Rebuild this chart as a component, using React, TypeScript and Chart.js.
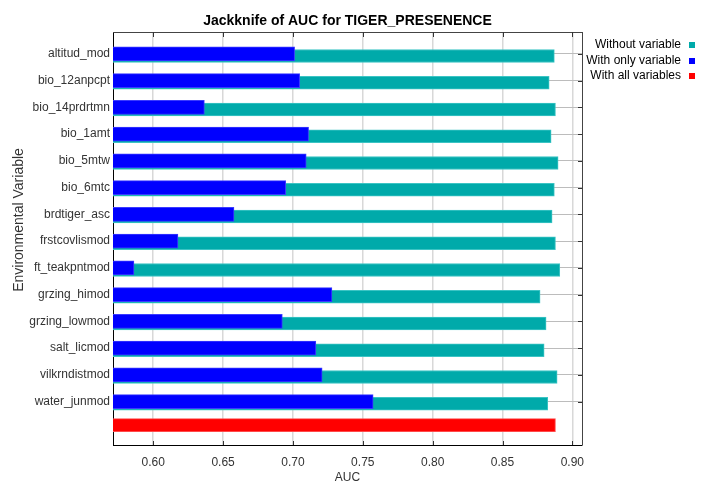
import React, { useEffect, useRef } from 'react';
import { Chart, registerables } from 'chart.js';

Chart.register(...registerables);

const categories = [
  'altitud_mod',
  'bio_12anpcpt',
  'bio_14prdrtmn',
  'bio_1amt',
  'bio_5mtw',
  'bio_6mtc',
  'brdtiger_asc',
  'frstcovlismod',
  'ft_teakpntmod',
  'grzing_himod',
  'grzing_lowmod',
  'salt_licmod',
  'vilkrndistmod',
  'water_junmod',
];
const withoutVariable = [
  0.8871, 0.8834, 0.8879, 0.8848, 0.8898, 0.8871, 0.8855, 0.8879, 0.891, 0.8769, 0.8812, 0.8798, 0.8891, 0.8824,
];
const withOnlyVariable = [
  0.7012, 0.7048, 0.6366, 0.7112, 0.7095, 0.6948, 0.6578, 0.6177, 0.5862, 0.7279, 0.6924, 0.7164, 0.7209, 0.7574,
];
const withAllVariables = [0.8879];
const xTickValues = [0.6, 0.65, 0.7, 0.75, 0.8, 0.85, 0.9];
const legendLabels = ['Without variable', 'With only variable', 'With all variables'];
const seriesColors = ['#00AAAA', '#0000FF', '#FF0000'];
const titleText = 'Jackknife of AUC for TIGER_PRESENENCE';
const xTitle = 'AUC';
const yTitle = 'Environmental Variable';

const FONT = '"Liberation Sans", Arial, Helvetica, sans-serif';

const decorPlugin = {
  id: 'decor',
  afterDraw(chart: any) {
    const { ctx, chartArea } = chart;
    const { left, right, top, bottom } = chartArea;
    const xs = chart.scales.x;
    const ys = chart.scales.y;
    ctx.save();
    // top and right border
    ctx.strokeStyle = '#444444';
    ctx.lineWidth = 1;
    ctx.beginPath();
    ctx.moveTo(left, Math.round(top) + 0.5);
    ctx.lineTo(right, Math.round(top) + 0.5);
    ctx.moveTo(Math.round(right) + 0.5, top);
    ctx.lineTo(Math.round(right) + 0.5, bottom);
    ctx.stroke();
    // inward ticks
    ctx.strokeStyle = '#333333';
    ctx.beginPath();
    xTickValues.forEach((v) => {
      const px = Math.round(xs.getPixelForValue(v)) + 0.5;
      ctx.moveTo(px, top);
      ctx.lineTo(px, top + 5);
      ctx.moveTo(px, bottom - 4);
      ctx.lineTo(px, bottom);
    });
    categories.forEach((_, i) => {
      const py = Math.round(ys.getPixelForValue(i)) + 0.5;
      ctx.moveTo(right - 4, py);
      ctx.lineTo(right, py);
    });
    ctx.stroke();

    // title
    ctx.fillStyle = '#000000';
    ctx.font = `bold 14px ${FONT}`;
    ctx.textAlign = 'center';
    ctx.textBaseline = 'middle';
    ctx.fillText(titleText, (left + right) / 2, 21);

    // x title
    ctx.fillStyle = '#333333';
    ctx.font = `12px ${FONT}`;
    ctx.fillText(xTitle, (left + right) / 2, 478);

    // y title
    ctx.save();
    ctx.translate(19, 220);
    ctx.rotate(-Math.PI / 2);
    ctx.font = `14px ${FONT}`;
    ctx.fillText(yTitle, 0, 0);
    ctx.restore();

    // legend
    ctx.font = `12px ${FONT}`;
    ctx.textAlign = 'right';
    legendLabels.forEach((lab, i) => {
      const cy = 45 + i * 15.5;
      ctx.fillStyle = '#000000';
      ctx.fillText(lab, 681, cy);
      ctx.fillStyle = seriesColors[i];
      ctx.fillRect(689, Math.round(cy) - 3, 6, 6);
    });
    ctx.restore();
  },
};

export default function App() {
  const ref = useRef<HTMLCanvasElement | null>(null);

  useEffect(() => {
    document.body.style.margin = '0';
    const canvas = ref.current;
    if (!canvas) return;
    const teal = withoutVariable.map((v, i) => ({ x: v, y: i }));
    const blue = withOnlyVariable.map((v, i) => ({ x: v, y: i }));
    const red = withAllVariables.map((v) => ({ x: v, y: categories.length }));

    const chart = new Chart(canvas, {
      type: 'bar',
      data: {
        datasets: [
          {
            label: legendLabels[0],
            data: teal,
            backgroundColor: seriesColors[0],
            borderColor: '#3cc4c4',
            borderWidth: 1,
            barThickness: 13,
            grouped: false,
            yAxisID: 'y2',
            order: 1,
          },
          {
            label: legendLabels[1],
            data: blue,
            backgroundColor: seriesColors[1],
            borderColor: '#3a3aff',
            borderWidth: 1,
            barThickness: 14,
            grouped: false,
            yAxisID: 'y',
            order: 0,
          },
          {
            label: legendLabels[2],
            data: red,
            backgroundColor: seriesColors[2],
            borderColor: '#ff4a4a',
            borderWidth: 1,
            barThickness: 13,
            grouped: false,
            yAxisID: 'y3',
            order: 1,
          },
        ],
      } as any,
      options: {
        indexAxis: 'y',
        responsive: false,
        animation: false,
        devicePixelRatio: 1,
        layout: { padding: { top: 32, right: 128, left: 0, bottom: 0 } },
        plugins: {
          legend: { display: false },
          title: { display: false },
          tooltip: { enabled: false },
        },
        scales: {
          x: {
            type: 'linear',
            position: 'bottom',
            min: 0.5712,
            max: 0.9069,
            afterBuildTicks: (axis: any) => {
              axis.ticks = xTickValues.map((v) => ({ value: v }));
            },
            afterFit: (axis: any) => {
              axis.height = 39;
            },
            ticks: {
              autoSkip: false,
              maxRotation: 0,
              padding: 10,
              color: '#333333',
              font: { family: FONT, size: 12 },
              callback: (v: any) => Number(v).toFixed(2),
            },
            grid: { color: '#d8d8d8', lineWidth: 1.5, drawTicks: false },
            border: { color: '#000000', width: 1 },
          },
          y: {
            type: 'linear',
            position: 'left',
            reverse: true,
            offset: false,
            min: -0.815,
            max: 14.624,
            afterBuildTicks: (axis: any) => {
              axis.ticks = categories.map((_, i) => ({ value: i }));
            },
            afterFit: (axis: any) => {
              axis.width = 113;
            },
            ticks: {
              autoSkip: false,
              padding: 3,
              color: '#333333',
              font: { family: FONT, size: 12 },
              callback: (v: any) => categories[Math.round(Number(v))] ?? '',
            },
            grid: { color: '#bcbcbc', lineWidth: 1, drawTicks: false, offset: false },
            border: { color: '#000000', width: 1 },
          },
          y2: {
            type: 'linear',
            display: false,
            reverse: true,
            offset: false,
            min: -0.897,
            max: 14.542,
            grid: { offset: false },
          },
          y3: {
            type: 'linear',
            display: false,
            reverse: true,
            offset: false,
            min: -0.699,
            max: 14.74,
            grid: { offset: false },
          },
        },
      } as any,
      plugins: [decorPlugin],
    });
    return () => chart.destroy();
  }, []);

  return (
    <div style={{ width: 710, height: 484 }}>
      <canvas ref={ref} width={710} height={484} style={{ display: 'block' }} />
    </div>
  );
}
